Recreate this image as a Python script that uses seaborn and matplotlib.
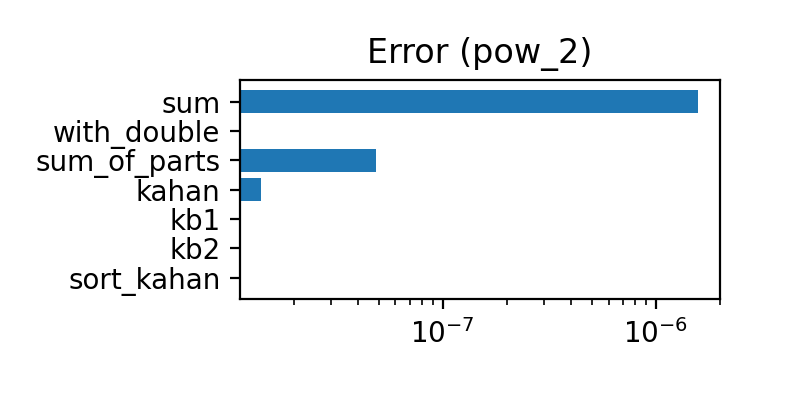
import matplotlib
matplotlib.use("Agg")
import matplotlib.pyplot as plt
import seaborn as sns
import pandas as pd

methods = ["sum", "with_double", "sum_of_parts", "kahan", "kb1", "kb2", "sort_kahan"]
errors = [1.58e-6, 0.0, 4.86e-8, 1.41e-8, 0.0, 0.0, 0.0]
title = "Error (pow_2)"

df = pd.DataFrame({"method": methods, "error": errors})

dpi = 200
fig = plt.figure(figsize=(4, 2), dpi=dpi)
ax = fig.add_axes([0.30, 0.252, 0.60, 0.548])

sns.barplot(data=df, x="error", y="method", orient="h", color="#1f77b4",
            saturation=1, width=0.8, ax=ax)
ax.set_xscale("log")
ax.set_xlim(1.12e-8, 2.0e-6)
ax.set_ylim(6.74, -0.74)
ax.set_xlabel("")
ax.set_ylabel("")
ax.set_title(title, fontsize=12)
for s in ax.spines.values():
    s.set_visible(True)
    s.set_color("black")

fig.savefig("out.png", dpi=dpi)
